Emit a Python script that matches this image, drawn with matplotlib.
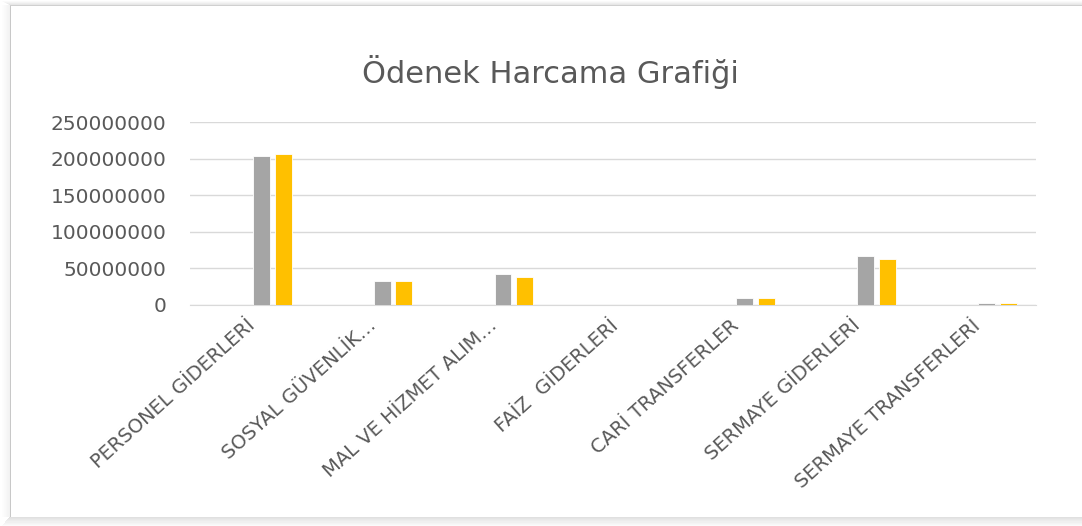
import numpy as np
import matplotlib.pyplot as plt
import matplotlib.transforms as mtransforms
from matplotlib.patches import Rectangle

# Data
categories = ['PERSONEL GİDERLERİ', 'SOSYAL GÜVENLİK…', 'MAL VE HİZMET ALIM…',
              'FAİZ  GİDERLERİ', 'CARİ TRANSFERLER', 'SERMAYE GİDERLERİ',
              'SERMAYE TRANSFERLERİ']
odenek = [204e6, 33e6, 43e6, 0, 9.2e6, 67.5e6, 3e6]
harcama = [206e6, 32.5e6, 38e6, 0, 9e6, 62.5e6, 2.5e6]
yticks = [0, 50000000, 100000000, 150000000, 200000000, 250000000]

W, H = 1082, 526
fig = plt.figure(figsize=(W / 100, H / 100), dpi=100)
fig.patch.set_facecolor('white')

# Chart frame with soft shadow on left, top and bottom (pixel coords)
def frac_rect(x0, y0, x1, y1, **kw):
    return Rectangle((x0 / W, 1 - y1 / H), (x1 - x0) / W, (y1 - y0) / H,
                     transform=fig.transFigure, linewidth=0, **kw)

for k in range(8):
    a = 0.05 * (1 - k / 8)
    fig.patches.append(frac_rect(9 - k, 5, 10 - k, 517, facecolor='black', alpha=a))
    fig.patches.append(frac_rect(9 - k, 4 - k * 0.5, W, 5 - k * 0.5, facecolor='black', alpha=a))
    fig.patches.append(frac_rect(9 - k, 517 + k * 1.1, W, 518.1 + k * 1.1,
                                 facecolor='black', alpha=a * 2.4))
fig.patches.append(frac_rect(9.5, 5, 10.5, 517, facecolor='#C8C8C8'))
fig.patches.append(frac_rect(9.5, 4.5, W, 5.5, facecolor='#D0D0D0'))

ax = fig.add_axes([190 / W, 1 - 305 / H, 846 / W, 183 / H])
ax.set_facecolor('none')

x = np.arange(len(categories))
width = 0.14
ax.bar(x + 0.09, odenek, width, color='#A5A5A5', edgecolor='white', linewidth=0.6, zorder=3)
ax.bar(x + 0.27, harcama, width, color='#FFC000', edgecolor='white', linewidth=0.6, zorder=3)

ax.set_xlim(-0.5, len(categories) - 0.5)
ax.set_ylim(0, 250000000)
ax.set_yticks(yticks)
ax.set_yticklabels([str(v) for v in yticks])
ax.yaxis.grid(True, color='#D9D9D9', linewidth=1)
ax.set_axisbelow(True)
for s in ['top', 'right', 'left']:
    ax.spines[s].set_visible(False)
ax.spines['bottom'].set_color('#D9D9D9')
ax.tick_params(axis='both', length=0, colors='#595959')
ax.tick_params(axis='y', labelsize=14.5, pad=17)

ax.set_xticks(x)
ax.set_xticklabels(categories, rotation=42, ha='right', va='top',
                   rotation_mode='anchor', fontsize=14, color='#595959')
offset = mtransforms.ScaledTranslation(-0.04, -0.06, fig.dpi_scale_trans)
for lab in ax.get_xticklabels():
    lab.set_transform(lab.get_transform() + offset)

fig.text(550 / W, 1 - 72 / H, 'Ödenek Harcama Grafiği', ha='center', va='center',
         fontsize=22, color='#595959')

fig.savefig('out.png', dpi=100)
